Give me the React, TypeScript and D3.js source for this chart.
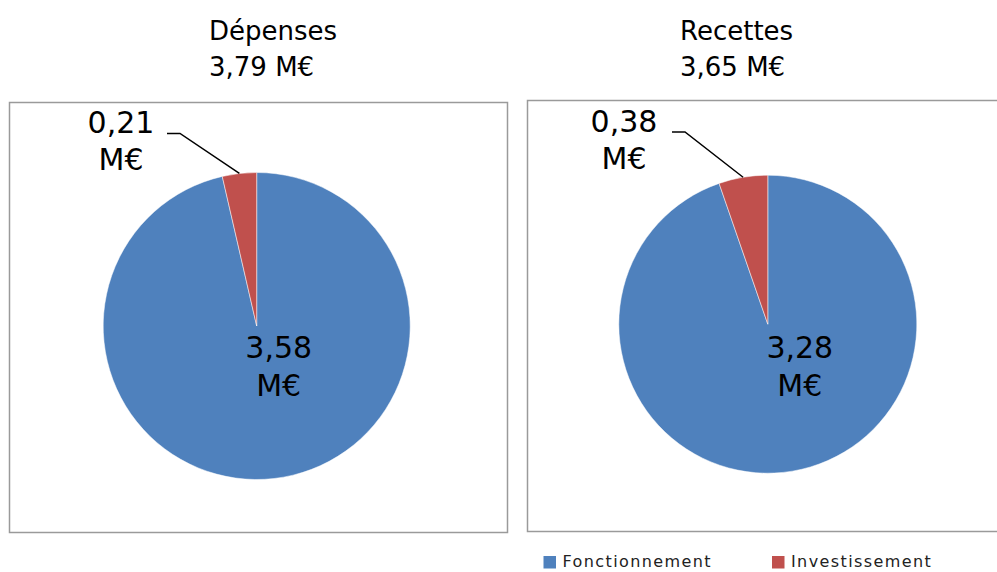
import React, { useEffect, useRef } from 'react';
import * as d3 from 'd3';

// categories and values
const categories = ["Fonctionnement", "Investissement"];
const colors = ["#4F81BD", "#C0504D"];

const chartTitles = ["Dépenses", "Recettes"];
const chartTotals = ["3,79 M€", "3,65 M€"];

// slice shares as drawn (percent)
const depensesShares = [96.4, 3.6];
const recettesShares = [94.7, 5.3];

// data labels
const depensesLabels = ["3,58", "0,21"];
const recettesLabels = ["3,28", "0,38"];

const W = 997;
const H = 572;

export default function App() {
    const svgRef = useRef<SVGSVGElement | null>(null);

    useEffect(() => {
        if (!svgRef.current) return;
        const svg = d3.select(svgRef.current);
        svg.selectAll("*").remove();

        const font = "'DejaVu Sans', sans-serif";

        const panels = [
            {
                shares: depensesShares, labels: depensesLabels, title: chartTitles[0], total: chartTotals[0],
                box: { x: 9.5, y: 102.5, w: 498, h: 430 },
                cx: 256.7, cy: 326, r: 153.5,
                titleX: 209,
                outLabel: { x: 121, y: 133 }, elbow: [[167, 133.5], [180, 133.5]],
                inLabel: { dx: 22, dy: 32 },
            },
            {
                shares: recettesShares, labels: recettesLabels, title: chartTitles[1], total: chartTotals[1],
                box: { x: 527.5, y: 100.5, w: 500, h: 431 },
                cx: 767.8, cy: 324.2, r: 149,
                titleX: 680,
                outLabel: { x: 624, y: 131.5 }, elbow: [[672, 132], [685, 132]],
                inLabel: { dx: 32, dy: 34 },
            },
        ];

        const pie = d3.pie<number>().sort(null).value(d => d);

        panels.forEach(p => {
            // title
            const t = svg.append("text")
                .attr("x", p.titleX)
                .attr("y", 39.5)
                .attr("font-family", font)
                .attr("font-size", 26)
                .attr("fill", "#000");
            t.append("tspan").attr("x", p.titleX).text(p.title);
            t.append("tspan").attr("x", p.titleX).attr("dy", 36).text(p.total);

            // plot box
            svg.append("rect")
                .attr("x", p.box.x)
                .attr("y", p.box.y)
                .attr("width", p.box.w)
                .attr("height", p.box.h)
                .attr("fill", "none")
                .attr("stroke", "#9a9a9a")
                .attr("stroke-width", 1.5);

            const g = svg.append("g").attr("transform", `translate(${p.cx},${p.cy})`);
            const arcs = pie(p.shares);
            const arc = d3.arc<d3.PieArcDatum<number>>().innerRadius(0).outerRadius(p.r);

            g.selectAll("path")
                .data(arcs)
                .enter().append("path")
                .attr("d", arc)
                .attr("fill", (d, i) => colors[i])
                .attr("stroke", "#fff")
                .attr("stroke-width", 0.5);

            // leader line to the small slice
            const small = arcs[1];
            const mid = (small.startAngle + small.endAngle) / 2;
            const ex = p.cx + Math.sin(mid) * p.r;
            const ey = p.cy - Math.cos(mid) * p.r;
            const pts: [number, number][] = [
                [p.elbow[0][0], p.elbow[0][1]],
                [p.elbow[1][0], p.elbow[1][1]],
                [ex, ey],
            ];
            svg.append("path")
                .attr("d", d3.line()(pts))
                .attr("fill", "none")
                .attr("stroke", "#000")
                .attr("stroke-width", 1.5);

            const ol = svg.append("text")
                .attr("font-family", font)
                .attr("font-size", 30)
                .attr("text-anchor", "middle")
                .attr("fill", "#000")
                .attr("y", p.outLabel.y);
            ol.append("tspan").attr("x", p.outLabel.x).text(p.labels[1]);
            ol.append("tspan").attr("x", p.outLabel.x).attr("dy", 37).text("M€");

            const il = svg.append("text")
                .attr("font-family", font)
                .attr("font-size", 30)
                .attr("text-anchor", "middle")
                .attr("fill", "#000")
                .attr("y", p.cy + p.inLabel.dy);
            il.append("tspan").attr("x", p.cx + p.inLabel.dx).text(p.labels[0]);
            il.append("tspan").attr("x", p.cx + p.inLabel.dx).attr("dy", 37.5).text("M€");
        });

        // legend
        const legendX = [543.5, 772];
        categories.forEach((c, i) => {
            svg.append("rect")
                .attr("x", legendX[i])
                .attr("y", 556)
                .attr("width", 12.5)
                .attr("height", 12.5)
                .attr("fill", colors[i]);
            svg.append("text")
                .attr("x", legendX[i] + 19)
                .attr("y", 567)
                .attr("font-family", font)
                .attr("font-size", 16)
                .attr("letter-spacing", 1.4)
                .attr("fill", "#222")
                .text(c);
        });
    }, []);

    return (
        <svg
            ref={svgRef}
            width={W}
            height={H}
            style={{ position: "absolute", left: 0, top: 0, background: "#fff" }}
        />
    );
}
